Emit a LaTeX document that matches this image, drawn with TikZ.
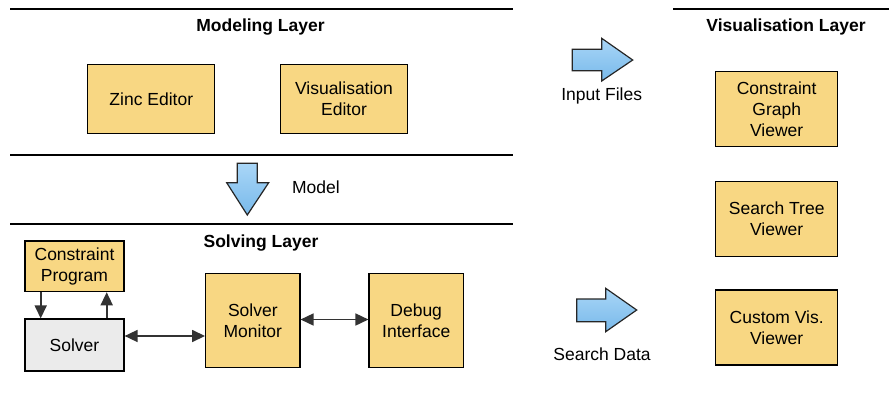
\documentclass[tikz,border=0pt]{standalone}
\usepackage{fontspec}
\setmainfont{Liberation Sans}
\usetikzlibrary{arrows.meta}
\definecolor{boxyellow}{HTML}{F8D783}
\definecolor{solvergray}{HTML}{EBEBEB}
\definecolor{arrowtop}{HTML}{A9D6F7}
\definecolor{arrowbottom}{HTML}{78B9EA}
\tikzset{
  comp/.style={draw, line width=1.2pt, fill=boxyellow, align=center, inner sep=2pt,
    font=\fontsize{17.5}{21}\selectfont},
  title/.style={font=\fontsize{17.5}{21}\selectfont\bfseries},
  lbl/.style={font=\fontsize{17.5}{21}\selectfont},
  rule/.style={line width=2.6pt},
  link/.style={line width=1.6pt, black!80, -{Triangle[length=13pt,width=12pt]}},
  twoway/.style={line width=1.6pt, black!80, {Triangle[length=13pt,width=12pt]}-{Triangle[length=13pt,width=12pt]}},
  bigarrow/.style={draw=black!85, line width=1.2pt, top color=arrowtop, bottom color=arrowbottom}
}
\begin{document}
\begin{tikzpicture}[x=1pt,y=-1pt]
\useasboundingbox (0,0) rectangle (889,394);
% layer rules
\draw [rule] (10,9) -- (513,9);
\draw [rule] (10,155) -- (513,155);
\draw [rule] (10,224) -- (513,224);
\draw [rule] (673,9) -- (889,9);
% titles
\node [title] (modtitle) at (260.5,27) {Modeling Layer};
\node [title] (soltitle) at (261,243) {Solving Layer};
\node [title] (vistitle) at (786,27) {Visualisation Layer};
% modeling layer
\node [comp, minimum width=127pt, minimum height=69pt] (zinc) at (151.3,98.8) {Zinc Editor};
\node [comp, minimum width=127pt, minimum height=69pt] (viseditor) at (344,98.8) {Visualisation\\Editor};
% solving layer
\node [comp, minimum width=99pt, minimum height=50.7pt] (program) at (74.5,266.3) {Constraint\\Program};
\node [comp, fill=solvergray, minimum width=99pt, minimum height=52pt] (solver) at (74.5,345) {Solver};
\node [comp, minimum width=94.3pt, minimum height=94.4pt] (monitor) at (252.8,320.5) {Solver\\Monitor};
\node [comp, minimum width=94.3pt, minimum height=94.4pt] (debug) at (416.2,320.5) {Debug\\Interface};
% visualisation layer
\node [comp, minimum width=122pt, minimum height=75pt] (graphview) at (776.7,109.2) {Constraint\\Graph\\Viewer};
\node [comp, minimum width=122pt, minimum height=75pt] (treeview) at (776.7,219.2) {Search Tree\\Viewer};
\node [comp, minimum width=122pt, minimum height=75pt] (customview) at (776.7,327.5) {Custom Vis.\\Viewer};
% connectors
\draw [link] ([xshift=-33.8pt]program.south) -- ([xshift=-33.8pt]solver.north);
\draw [link] ([xshift=32.2pt]solver.north) -- ([xshift=32.2pt]program.south);
\draw [twoway] ([yshift=9pt]solver.east) -- ([yshift=9pt]solver.east -| monitor.west);
\draw [twoway] ([yshift=1pt]monitor.east) -- ([yshift=1pt]debug.west);
% block arrows
\draw [bigarrow] (237.3,163.3) -- (257.3,163.3) -- (257.3,182.7) -- (268.7,182.7) -- (247.3,215) -- (226.7,182.7) -- (237.3,182.7) -- cycle;
\draw [bigarrow] (572.3,49.3) -- (601.7,49.3) -- (601.7,38.3) -- (632.7,60) -- (601.7,81) -- (601.7,70.7) -- (572.3,70.7) -- cycle;
\draw [bigarrow] (576.7,299) -- (605.7,299) -- (605.7,288.3) -- (636.7,310) -- (605.7,331.7) -- (605.7,321.7) -- (576.7,321.7) -- cycle;
\node [lbl] (model) at (316,187) {Model};
\node [lbl] (inputfiles) at (601.7,96) {Input Files};
\node [lbl] (searchdata) at (602,354.5) {Search Data};
\end{tikzpicture}
\end{document}
